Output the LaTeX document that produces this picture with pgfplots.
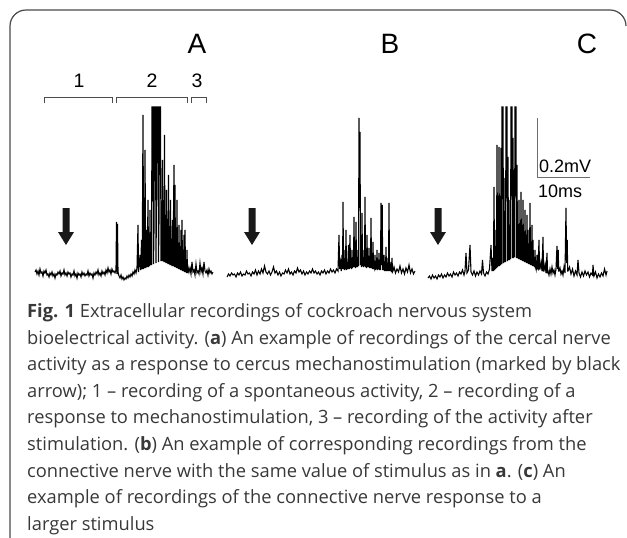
\documentclass[border=0pt]{standalone}
\usepackage{fontspec}
\setmainfont{Open Sans}
\newfontfamily\labfont{Liberation Sans}
\usepackage{pgfplots}
\pgfplotsset{compat=1.18}
\definecolor{framegray}{HTML}{4a4a4a}
\definecolor{capgray}{HTML}{383838}
\definecolor{bargray}{HTML}{6e6e6e}

\newcommand{\caplinefont}{\fontsize{18.3}{22}\selectfont}
% stimulus arrow, tip at (x,245)
\newcommand{\stimarrow}[1]{%
  \fill[black!90] (axis cs:#1,245) -- ++(-8pt,13pt) -- ++(4.5pt,0) -- ++(0,24pt)
    -- ++(7pt,0) -- ++(0,-24pt) -- ++(4.5pt,0) -- cycle;}

\begin{document}
\begin{tikzpicture}
\path[use as bounding box] (0,0) rectangle (627pt,538pt);
\begin{axis}[
  at={(0,0)}, anchor=south west,
  scale only axis, width=627pt, height=538pt,
  xmin=0, xmax=627, ymin=0, ymax=538,
  y dir=reverse, hide axis, clip=false,
]
% frame
\draw[framegray, line width=1.2pt]
  (axis cs:10,538) -- (axis cs:10,26) arc[start angle=180, end angle=90, radius=16pt]
  -- (axis cs:610,10) arc[start angle=90, end angle=0, radius=16pt];

% trace A
\addplot[black, line width=1.1pt] coordinates {
(35,272)(36,270)(37,274)(38,271)(39,275)(40,269)(41,273)(42,272)(43,276)(44,271)
(45,273)(46,270)(47,275)(48,274)(49,277)(50,273)(51,275)(52,272)(53,276)(54,274)
(55,278)(56,274)(57,275)(58,272)(59,274)(60,271)(61,276)(62,273)(63,274)(64,270)
(65,275)(66,273)(67,276)(68,272)(69,274)(70,273)(71,277)(72,274)(73,275)(74,271)
(75,276)(76,274)(77,278)(78,273)(79,275)(80,274)(81,277)(82,272)(83,275)(84,273)
(85,276)(86,274)(87,275)(88,271)(89,276)(90,273)(91,275)(92,274)(93,278)(94,273)
(95,275)(96,272)(97,274)(98,270)(99,275)(100,273)(101,276)(102,271)(103,274)(104,272)
(105,275)(106,270)(107,273)(108,268)(109,272)(110,270)(111,274)(112,269)(113,272)(114,271)
(115,273)(116,270)(116.5,222)(117,274)(117.5,224)(118,272)
(119,276)(120,278)(121,275)(122,279)(123,277)(124,280)(125,278)(126,279)(127,276)(128,278)
(129,275)(130,277)(131,274)(132,276)(133,272)(134,274)(135,270)(136,273)(137,268)
(138,225)(138.5,272)(139.5,262)(140,255)(140.7,270)(141.5,240)(142.2,269)(143,115)(143.6,269)
(144,250)(144.5,268)(145,150)(145.7,268)(146.5,230)(147.2,267)(148,200)(148.5,267)
(149,245)(149.5,266)(150,210)(150.5,265)(151,240)(151.5,265)(152,107)(153,107)(153.5,264)
(154,230)(154.5,107)(155.5,107)(156,263)(156.5,200)(157,107)(158,107)(158.5,262)
(159,220)(159.5,107)(160.5,107)(161,261)
(161.5,210)(162,261)(162.5,160)(163,261)(163.5,230)(164,262)(164.5,135)(165,262)
(165.5,215)(166,263)(166.5,190)(167,263)(167.5,235)(168,264)(168.5,175)(169,264)
(169.5,240)(170,265)(170.5,200)(171,265)(171.5,245)(172,266)(172.5,220)(173,266)
(174,165)(174.5,267)(175,185)(175.5,267)(176,240)(176.5,268)(177,200)(177.5,268)
(178,250)(178.5,269)(179,225)(179.5,269)(180,255)(180.5,270)(181,230)(181.5,270)
(182,220)(182.5,271)(183,258)(183.5,271)(184,235)(184.5,272)(185,230)(185.5,272)
(186,260)(186.5,273)(187,250)(187.5,273)(188,267)
(189,272)(190,268)(191,274)(192,262)(193,272)(194,270)(195,275)(196,264)(197,273)(198,271)
(199,274)(200,263)(201,272)(202,268)(203,274)(204,262)(205,271)(206,273)(207,270)(208,275)
(209,269)(210,273)(211,271)(212,274)(213,272)
};

% trace B
\addplot[black, line width=1.1pt] coordinates {
(227,277)(228.5,274)(230,276)(231.5,273)(233,275)(234.5,274)(236,277)(237.5,273)(239,275)(240.5,272)
(242,276)(243.5,274)(245,275)(246.5,271)(248,274)(249.5,273)(251,276)(252.5,272)(254,274)(255.5,270)
(257,275)(258.5,271)(260,274)(261.5,269)(263,273)(264.5,266)(266,272)(267.5,274)(269,271)(270.5,275)
(272,272)(273.5,267)(275,273)(276.5,271)(278,275)(279.5,272)(281,276)(282.5,273)(284,274)(285.5,270)
(287,273)(288.5,269)(290,274)(291.5,272)(293,275)(294.5,271)(296,273)(297.5,268)(299,272)(300.5,270)
(302,274)(303.5,271)(305,275)(306.5,272)(308,274)(309.5,271)(311,273)(312.5,269)(314,273)(315.5,271)
(317,274)(318.5,272)(320,275)(321.5,271)(323,273)(324.5,270)(326,274)(327.5,271)(329,273)(330.5,269)
(332,272)(333.5,270)(335,273)(336.5,269)(338,271)
(339,235)(339.6,269)(340.5,262)(341.2,271)(342,255)(342.6,269)(343,202)(343.5,269)(344,262)
(344.5,270)(345,250)(345.5,269)(346,230)(346.5,270)(347,262)(347.7,269)(348.5,245)(349.2,269)
(350,235)(350.5,268)(351,262)(351.5,269)(352,250)(352.5,268)(353,264)(353.5,267)(354,217)
(354.5,267)(355,262)(355.5,268)(356,222)(356.5,267)(357,264)(357.5,267)(358,250)(358.5,266)
(359,118)(359.5,200)(360,132)(360.5,265)(361,255)(361.5,267)(362,213)(362.5,266)(363,262)
(363.5,267)(364,250)(364.5,266)(365,197)(365.5,267)(366,262)(366.5,268)(367,235)(367.5,267)
(368,264)(368.5,267)(369,248)(369.5,268)(370,262)(370.5,268)(371,218)(371.5,268)(372,262)
(372.5,269)(373,242)(373.5,269)(374,266)(374.5,268)(375,255)(375.5,270)(376,266)(376.5,269)
(377,250)(377.5,270)(378,266)(378.5,269)(379,253)(379.5,270)(380,265)(380.5,270)(381,203)
(381.6,265)(382.2,205)(382.7,270)(383,266)(383.5,270)(384,255)(384.5,271)(385,267)(385.5,271)
(386,247)(386.5,271)(387,267)(387.5,271)(388,258)(388.5,271)(389,203)(389.5,271)(390,266)
(390.5,271)(391,262)(391.5,272)(392,258)(392.5,272)(393,271)
(394,267)(395.5,273)(397,269)(398.5,272)(400,266)(401.5,273)(403,269)(404.5,274)(406,268)
(407.5,272)(409,265)(410.5,273)(412,269)(413.5,274)(415,271)
};

% trace C
\addplot[black, line width=1.1pt] coordinates {
(428,278)(429.5,276)(431,279)(432.5,275)(434,278)(435.5,276)(437,279)(438.5,275)(440,277)(441.5,274)
(443,278)(444.5,275)(446,277)(447.5,273)(449,276)(450.5,274)(452,277)(453.5,272)(455,275)(456.5,273)
(458,276)(459.5,272)(461,274)(462.5,270)(464,275)(465,271)(466,253)(467,273)(468.5,270)(470,245)
(471,272)(472.5,275)(474,271)(475.5,276)(477,272)(478.5,275)(480,271)(481.5,274)(482.5,260)(483.5,273)
(485,276)(486.5,272)(488,274)(489.5,269)(491,245)(492,271)
(493,258)(493.5,271)(494,187)(494.5,270)(495,255)(495.5,269)(496,230)(496.5,268)(497,145)
(497.5,267)(498,245)(498.5,266)(499,147)(499.5,266)(500,250)(500.5,265)(501,148)(501.3,264)
(501.5,240)(501.8,264)(502,107)(503,107)(503.5,263)(504,178)(504.5,262)(505,225)
(505.5,262)(506,107)(507,107)(507.5,261)(508,157)(508.5,260)(509,235)(509.5,260)
(510,200)(510.5,259)(511,107)(512,107)(512.5,258)(513,138)(513.5,258)(514,170)
(514.5,257)(515,107)(516,107)(516.5,258)(517,165)(517.5,258)(518,240)(518.5,259)
(519,200)(519.5,259)(520,230)(520.5,260)(521,192)(521.5,260)(522,245)(522.5,261)(523,200)
(523.5,261)(524,240)(524.5,262)(525,210)(525.5,262)(526,255)(526.5,263)(527,215)(527.5,263)
(528,230)(528.5,264)(529,250)(529.5,264)(530,203)(530.5,265)(531,255)(531.5,265)(532,225)
(532.5,266)(533,240)(533.5,266)(534,262)(534.5,267)(535,250)(535.5,267)(536,265)(536.5,268)
(537,255)(537.5,268)(538,269)(539,240)(539.5,269)(540,269)(541,262)(542,271)(543,237)(543.5,271)
(544,271)(545,264)(546,273)(547,253)(547.5,272)(548,271)(549,275)(550,269)(551,274)(552,267)
(553,273)(554,270)(555,275)(556,269)(557,246)(557.6,269)(558.2,250)(558.7,271)(559,271)(560,268)
(561,274)(562,271)(563,275)(564,267)(565,273)(566,208)(566.6,263)(567.2,240)(567.7,271)(568,271)
(569.5,267)(571,274)(572.5,269)(574,276)(575.5,271)(577,275)(578,260)(579,273)(580.5,277)(582,272)
(583.5,276)(585,271)(586.5,275)(588,272)(589.5,277)(591,273)(592.5,275)(593,265)(594,276)(595.5,272)
(597,278)(598.5,274)(600,277)(601.5,273)(603,276)(604.5,269)(606,275)(607,271)
};

% stimulus arrows
\stimarrow{66}
\stimarrow{252}
\stimarrow{438}

% panel letters
\node[anchor=base, font=\labfont\fontsize{28}{30}\selectfont] at (axis cs:197,53) {A};
\node[anchor=base, font=\labfont\fontsize{28}{30}\selectfont] at (axis cs:390,53) {B};
\node[anchor=base, font=\labfont\fontsize{28}{30}\selectfont] at (axis cs:587,53) {C};

% segment brackets
\node[anchor=base, font=\labfont\fontsize{19.5}{22}\selectfont] at (axis cs:79,87) {1};
\node[anchor=base, font=\labfont\fontsize{19.5}{22}\selectfont] at (axis cs:152,87) {2};
\node[anchor=base, font=\labfont\fontsize{19.5}{22}\selectfont] at (axis cs:197,87) {3};
\draw[black!70, line width=0.6pt] (axis cs:44,103) -- (axis cs:44,97) -- (axis cs:112,97) -- (axis cs:112,103);
\draw[black!70, line width=0.6pt] (axis cs:116,103) -- (axis cs:116,97) -- (axis cs:187,97) -- (axis cs:187,103);
\draw[black!70, line width=0.6pt] (axis cs:191,103) -- (axis cs:191,97) -- (axis cs:206,97) -- (axis cs:206,103);

% scale bar
\draw[bargray, line width=0.7pt] (axis cs:537,118) -- (axis cs:537,177) -- (axis cs:590,177);
\node[anchor=base west, inner sep=0pt, font=\labfont\fontsize{18}{20}\selectfont] at (axis cs:539,172) {0.2mV};
\node[anchor=base west, inner sep=0pt, font=\labfont\fontsize{18}{20}\selectfont] at (axis cs:538,197) {10ms};

% caption
\begin{scope}[every node/.style={anchor=base west, inner sep=0pt, text=capgray, font=\caplinefont}]
\node at (axis cs:27,317.5) {\textbf{Fig. 1} Extracellular recordings of cockroach nervous system};
\node at (axis cs:27,344.1) {bioelectrical activity. (\textbf{a}) An example of recordings of the cercal nerve};
\node at (axis cs:27,370.7) {activity as a response to cercus mechanostimulation (marked by black};
\node at (axis cs:27,397.3) {arrow); 1 – recording of a spontaneous activity, 2 – recording of a};
\node at (axis cs:27,423.9) {response to mechanostimulation, 3 – recording of the activity after};
\node at (axis cs:27,450.5) {stimulation. (\textbf{b}) An example of corresponding recordings from the};
\node at (axis cs:27,477.1) {connective nerve with the same value of stimulus as in \textbf{a}. (\textbf{c}) An};
\node at (axis cs:27,503.7) {example of recordings of the connective nerve response to a};
\node at (axis cs:27,530.3) {larger stimulus};
\end{scope}
\end{axis}
\end{tikzpicture}
\end{document}
